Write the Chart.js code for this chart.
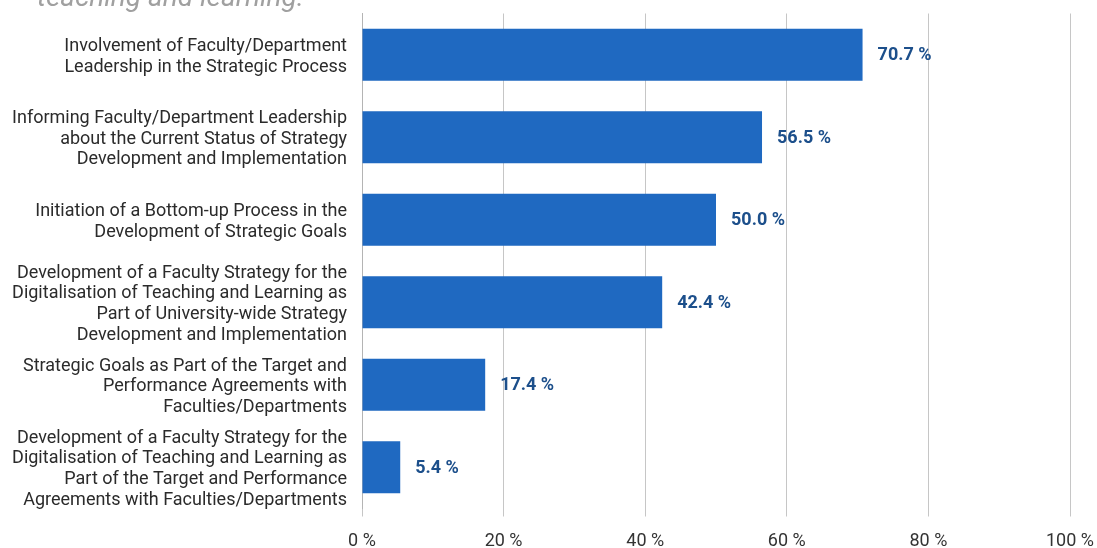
<!DOCTYPE html>
<html>
<head>
<meta charset="utf-8">
<script src="https://cdn.jsdelivr.net/npm/chart.js@4"></script>
<style>
    html, body { margin: 0; padding: 0; background: #fff; }
    #wrap { width: 1097px; height: 548px; position: relative; }
</style>
</head>
<body>
<div id="wrap"><canvas id="barChart"></canvas></div>
<script>
const categories = [
    ['Involvement of Faculty/Department', 'Leadership in the Strategic Process'],
    ['Informing Faculty/Department Leadership', 'about the Current Status of Strategy', 'Development and Implementation'],
    ['Initiation of a Bottom-up Process in the', 'Development of Strategic Goals'],
    ['Development of a Faculty Strategy for the', 'Digitalisation of Teaching and Learning as', 'Part of University-wide Strategy', 'Development and Implementation'],
    ['Strategic Goals as Part of the Target and', 'Performance Agreements with', 'Faculties/Departments'],
    ['Development of a Faculty Strategy for the', 'Digitalisation of Teaching and Learning as', 'Part of the Target and Performance', 'Agreements with Faculties/Departments']
];
const shares = [70.7, 56.5, 50.0, 42.4, 17.4, 5.4];
const xTicks = [0, 20, 40, 60, 80, 100];
const headingTail = 'teaching and learning.';

const FONT = 'Roboto, "Noto Sans", sans-serif';

// value text to the right of each bar
const valueLabels = {
    id: 'valueLabels',
    afterDatasetsDraw(chart) {
        const ctx = chart.ctx;
        const meta = chart.getDatasetMeta(0);
        ctx.save();
        ctx.font = 'bold 18px ' + FONT;
        ctx.fillStyle = '#1c4f8b';
        ctx.textAlign = 'left';
        ctx.textBaseline = 'middle';
        meta.data.forEach((bar, i) => {
            ctx.fillText(shares[i].toFixed(1) + ' %', bar.x + 15, bar.y + 1);
        });
        ctx.restore();
    }
};

// tail of the heading line, cut by the top edge
const heading = {
    id: 'heading',
    afterDraw(chart) {
        const ctx = chart.ctx;
        ctx.save();
        ctx.font = 'italic 28px ' + FONT;
        ctx.fillStyle = '#a0a0a0';
        ctx.textAlign = 'left';
        ctx.textBaseline = 'alphabetic';
        ctx.fillText(headingTail, 37, 6);
        ctx.restore();
    }
};

// fixed axis sizes, no extra room for overhanging labels
function noPadding(scale) {
    scale.paddingTop = 0;
    scale.paddingBottom = 0;
    scale.paddingLeft = 0;
    scale.paddingRight = 0;
}

new Chart(document.getElementById('barChart'), {
    type: 'bar',
    data: {
        labels: categories,
        datasets: [{
            data: shares,
            backgroundColor: '#1f69c1',
            borderWidth: 0,
            barPercentage: 0.63,
            categoryPercentage: 1.0
        }]
    },
    options: {
        indexAxis: 'y',
        responsive: true,
        maintainAspectRatio: false,
        animation: false,
        layout: { autoPadding: false, padding: { top: 13.5, right: 27, left: 0, bottom: 0 } },
        plugins: {
            legend: { display: false },
            tooltip: { enabled: false }
        },
        scales: {
            x: {
                min: 0,
                max: 100,
                afterBuildTicks(scale) {
                    scale.ticks = xTicks.map(v => ({ value: v }));
                },
                afterFit(scale) {
                    scale.height = 39.5;
                    noPadding(scale);
                },
                grid: { color: '#c6c6c6', lineWidth: 1, drawTicks: true, tickLength: 8 },
                border: { display: false },
                ticks: {
                    padding: 14,
                    color: '#333',
                    font: { family: FONT, size: 18 },
                    callback: v => v + ' %'
                }
            },
            y: {
                afterFit(scale) {
                    scale.width = 362;
                    noPadding(scale);
                },
                grid: { display: false, drawTicks: false },
                border: { display: true, color: '#b4b4b4', width: 1 },
                ticks: {
                    autoSkip: false,
                    padding: 15,
                    labelOffset: 2,
                    color: '#2b2b2b',
                    font: { family: FONT, size: 18, lineHeight: 1.14 }
                }
            }
        }
    },
    plugins: [valueLabels, heading]
});
</script>
</body>
</html>
